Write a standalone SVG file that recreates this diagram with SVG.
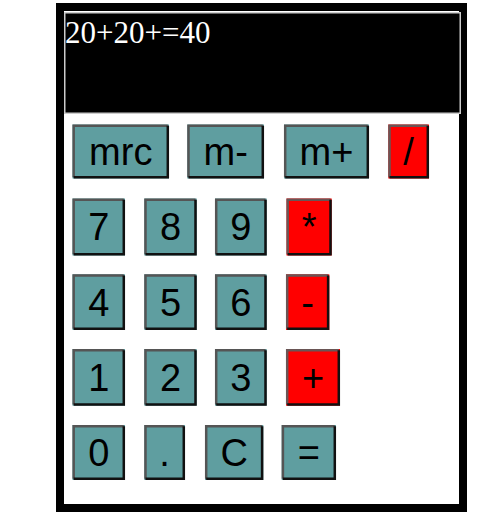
<svg xmlns="http://www.w3.org/2000/svg" width="504" height="515" viewBox="0 0 504 515">
<style>
.bt{fill:#5f9ea0}
.op{fill:#ff0000}
.hl{fill:none;stroke:#555555;stroke-width:2.5}
.hlr{fill:none;stroke:#6a5555;stroke-width:2.5}
.sh{fill:none;stroke:#111111;stroke-width:2.5}
.lbl{font-family:"Liberation Sans",Arial,sans-serif;font-size:38px;fill:#000;text-anchor:middle}
.disp{font-family:"Liberation Serif","Times New Roman",serif;font-size:31px;fill:#fff}
</style>
<rect x="0" y="0" width="504" height="515" fill="#fff"/>
<g id="frame">
<rect x="60" y="7" width="403" height="501" fill="#fff" stroke="#000" stroke-width="8"/>
</g>
<g id="display">
<rect x="64.75" y="12.75" width="395.5" height="100.5" fill="#000" stroke="#cccccc" stroke-width="1.5"/>
<text class="disp" x="65" y="43.3">20+20+=40</text>
</g>
<g id="btn-mrc"><rect class="bt" x="72.5" y="124.5" width="96.5" height="54"/><path class="hl" d="M73.7,177.3V125.7H167.8"/><path class="sh" d="M73.7,177.3H167.8V125.7"/><text class="lbl" x="120.75" y="164.8">mrc</text></g>
<g id="btn-mminus"><rect class="bt" x="187.3" y="124.5" width="76.7" height="54"/><path class="hl" d="M188.5,177.3V125.7H262.8"/><path class="sh" d="M188.5,177.3H262.8V125.7"/><text class="lbl" x="225.65" y="164.8">m-</text></g>
<g id="btn-mplus"><rect class="bt" x="284" y="124.5" width="85" height="54"/><path class="hl" d="M285.2,177.3V125.7H367.8"/><path class="sh" d="M285.2,177.3H367.8V125.7"/><text class="lbl" x="326.5" y="164.8">m+</text></g>
<g id="btn-div"><rect class="op" x="388.3" y="124.5" width="40.7" height="54"/><path class="hlr" d="M389.5,177.3V125.7H427.8"/><path class="sh" d="M389.5,177.3H427.8V125.7"/><text class="lbl" x="408.65" y="164.8">/</text></g>

<g id="btn-7"><rect class="bt" x="72.5" y="198.5" width="52.5" height="57"/><path class="hl" d="M73.7,254.3V199.7H123.8"/><path class="sh" d="M73.7,254.3H123.8V199.7"/><text class="lbl" x="98.75" y="240.3">7</text></g>
<g id="btn-8"><rect class="bt" x="144.3" y="198.5" width="52.4" height="57"/><path class="hl" d="M145.5,254.3V199.7H195.5"/><path class="sh" d="M145.5,254.3H195.5V199.7"/><text class="lbl" x="170.5" y="240.3">8</text></g>
<g id="btn-9"><rect class="bt" x="215" y="198.5" width="51.7" height="57"/><path class="hl" d="M216.2,254.3V199.7H265.5"/><path class="sh" d="M216.2,254.3H265.5V199.7"/><text class="lbl" x="240.85" y="240.3">9</text></g>
<g id="btn-mul"><rect class="op" x="286.5" y="198.5" width="45.2" height="57"/><path class="hlr" d="M287.7,254.3V199.7H330.5"/><path class="sh" d="M287.7,254.3H330.5V199.7"/><text class="lbl" x="309.1" y="240.3">*</text></g>

<g id="btn-4"><rect class="bt" x="72.5" y="274.3" width="52.5" height="55.7"/><path class="hl" d="M73.7,328.8V275.5H123.8"/><path class="sh" d="M73.7,328.8H123.8V275.5"/><text class="lbl" x="98.75" y="315.5">4</text></g>
<g id="btn-5"><rect class="bt" x="144.3" y="274.3" width="52.4" height="55.7"/><path class="hl" d="M145.5,328.8V275.5H195.5"/><path class="sh" d="M145.5,328.8H195.5V275.5"/><text class="lbl" x="170.5" y="315.5">5</text></g>
<g id="btn-6"><rect class="bt" x="215" y="274.3" width="51.7" height="55.7"/><path class="hl" d="M216.2,328.8V275.5H265.5"/><path class="sh" d="M216.2,328.8H265.5V275.5"/><text class="lbl" x="240.85" y="315.5">6</text></g>
<g id="btn-sub"><rect class="op" x="286" y="274.3" width="43.3" height="55.7"/><path class="hlr" d="M287.2,328.8V275.5H328.1"/><path class="sh" d="M287.2,328.8H328.1V275.5"/><text class="lbl" x="307.65" y="315.5">-</text></g>

<g id="btn-1"><rect class="bt" x="72.5" y="349" width="52.5" height="56.7"/><path class="hl" d="M73.7,404.5V350.2H123.8"/><path class="sh" d="M73.7,404.5H123.8V350.2"/><text class="lbl" x="98.75" y="390.6">1</text></g>
<g id="btn-2"><rect class="bt" x="144.3" y="349" width="52.4" height="56.7"/><path class="hl" d="M145.5,404.5V350.2H195.5"/><path class="sh" d="M145.5,404.5H195.5V350.2"/><text class="lbl" x="170.5" y="390.6">2</text></g>
<g id="btn-3"><rect class="bt" x="215" y="349" width="51.7" height="56.7"/><path class="hl" d="M216.2,404.5V350.2H265.5"/><path class="sh" d="M216.2,404.5H265.5V350.2"/><text class="lbl" x="240.85" y="390.6">3</text></g>
<g id="btn-add"><rect class="op" x="286" y="349" width="54" height="56.7"/><path class="hlr" d="M287.2,404.5V350.2H338.8"/><path class="sh" d="M287.2,404.5H338.8V350.2"/><text class="lbl" x="313" y="390.6">+</text></g>

<g id="btn-0"><rect class="bt" x="72.5" y="425" width="52.5" height="55"/><path class="hl" d="M73.7,478.8V426.2H123.8"/><path class="sh" d="M73.7,478.8H123.8V426.2"/><text class="lbl" x="98.75" y="465.8">0</text></g>
<g id="btn-dot"><rect class="bt" x="144.3" y="425" width="40.7" height="55"/><path class="hl" d="M145.5,478.8V426.2H183.8"/><path class="sh" d="M145.5,478.8H183.8V426.2"/><text class="lbl" x="164.65" y="465.8">.</text></g>
<g id="btn-C"><rect class="bt" x="205" y="425" width="58.3" height="55"/><path class="hl" d="M206.2,478.8V426.2H262.1"/><path class="sh" d="M206.2,478.8H262.1V426.2"/><text class="lbl" x="234.15" y="465.8">C</text></g>
<g id="btn-eq"><rect class="bt" x="281.7" y="425" width="54.3" height="55"/><path class="hl" d="M282.9,478.8V426.2H334.8"/><path class="sh" d="M282.9,478.8H334.8V426.2"/><text class="lbl" x="308.85" y="465.8">=</text></g>
<g id="connectors"></g>
</svg>
